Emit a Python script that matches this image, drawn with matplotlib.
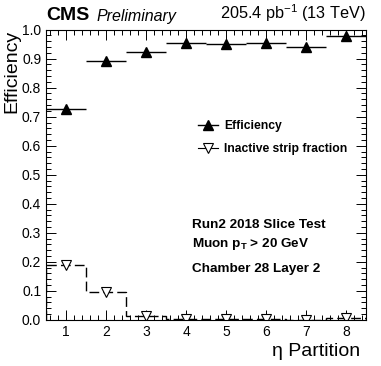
import numpy as np
import matplotlib as mpl; mpl.use('Agg')
import matplotlib.pyplot as plt
from matplotlib.ticker import MultipleLocator
mpl.rcParams.update({'font.family': 'Liberation Sans', 'mathtext.fontset': 'custom',
                     'mathtext.rm': 'Liberation Sans', 'mathtext.bf': 'Liberation Sans:bold'})

partition = np.arange(1, 9)
efficiency = [0.727, 0.892, 0.923, 0.954, 0.950, 0.955, 0.939, 0.979]
eff_err = [0.008, 0.005, 0.005, 0.004, 0.004, 0.004, 0.005, 0.003]
inactive = [0.190, 0.095, 0.015, 0.002, 0.004, 0.004, 0.000, 0.005]

fig = plt.figure(figsize=(3.81, 3.66), dpi=100)
ax = fig.add_axes([0.121, 0.126, 0.840, 0.793])

# efficiency: filled triangles with bin-width x errors
ax.errorbar(partition, efficiency, xerr=0.5, yerr=eff_err, fmt='^', color='k', ms=7.5,
            elinewidth=1.0, capsize=0)
# inactive strip fraction: dashed step histogram with open triangles
edges = np.arange(0.5, 9.0, 1.0)
ax.stairs(inactive, edges, color='k', ls=(0, (7, 3)), lw=1.0)
ax.plot(partition, inactive, 'v', mfc='white', mec='k', ms=6.5, mew=0.8, ls='none')

# legend proxies
h1, = ax.plot([], [], marker='^', color='k', ms=7.5, lw=1.0)
h2, = ax.plot([], [], marker='v', mfc='white', mec='k', ms=6.5, mew=0.8, color='k', lw=0.8)
ax.legend([h1, h2], ['Efficiency', 'Inactive strip fraction'], loc='upper left',
          bbox_to_anchor=(0.44, 0.725), frameon=False, prop={'weight': 'bold', 'size': 8.7},
          handlelength=1.7, handletextpad=0.5, labelspacing=0.9)

ax.set_xlim(0.5, 8.5); ax.set_ylim(0, 1.0)
ax.xaxis.set_major_locator(MultipleLocator(1)); ax.xaxis.set_minor_locator(MultipleLocator(0.2))
ax.yaxis.set_major_locator(MultipleLocator(0.1)); ax.yaxis.set_minor_locator(MultipleLocator(0.02))
ax.yaxis.set_major_formatter(mpl.ticker.FormatStrFormatter('%.1f'))
ax.tick_params(which='both', direction='in', top=True, right=True, labelsize=10, width=0.7)
ax.tick_params(which='major', length=7); ax.tick_params(which='minor', length=3.5)
ax.tick_params(axis='x', pad=4)
for s in ax.spines.values(): s.set_linewidth(0.8)

ax.set_ylabel('Efficiency', fontsize=14, ha='right', va='center')
ax.yaxis.set_label_coords(-0.106, 1.0)
ax.set_xlabel('\u03b7 Partition', fontsize=14, ha='right')
ax.xaxis.set_label_coords(0.98, -0.08)

fig.text(0.121, 0.935, 'CMS', fontsize=14, fontweight='bold', va='bottom')
fig.text(0.252, 0.935, 'Preliminary', fontsize=11.5, style='italic', va='bottom')
fig.text(0.961, 0.935, r'205.4 pb$^{-1}$ (13 TeV)', fontsize=11.7, ha='right', va='bottom')

ax.text(0.455, 0.315, 'Run2 2018 Slice Test', transform=ax.transAxes, fontsize=9.7, fontweight='bold')
ax.text(0.455, 0.25, r'Muon p$_{\mathbf{T}}$ > 20 GeV', transform=ax.transAxes, fontsize=9.7, fontweight='bold')
ax.text(0.455, 0.165, 'Chamber 28 Layer 2', transform=ax.transAxes, fontsize=9.7, fontweight='bold')

fig.savefig('out.png', dpi=100)
